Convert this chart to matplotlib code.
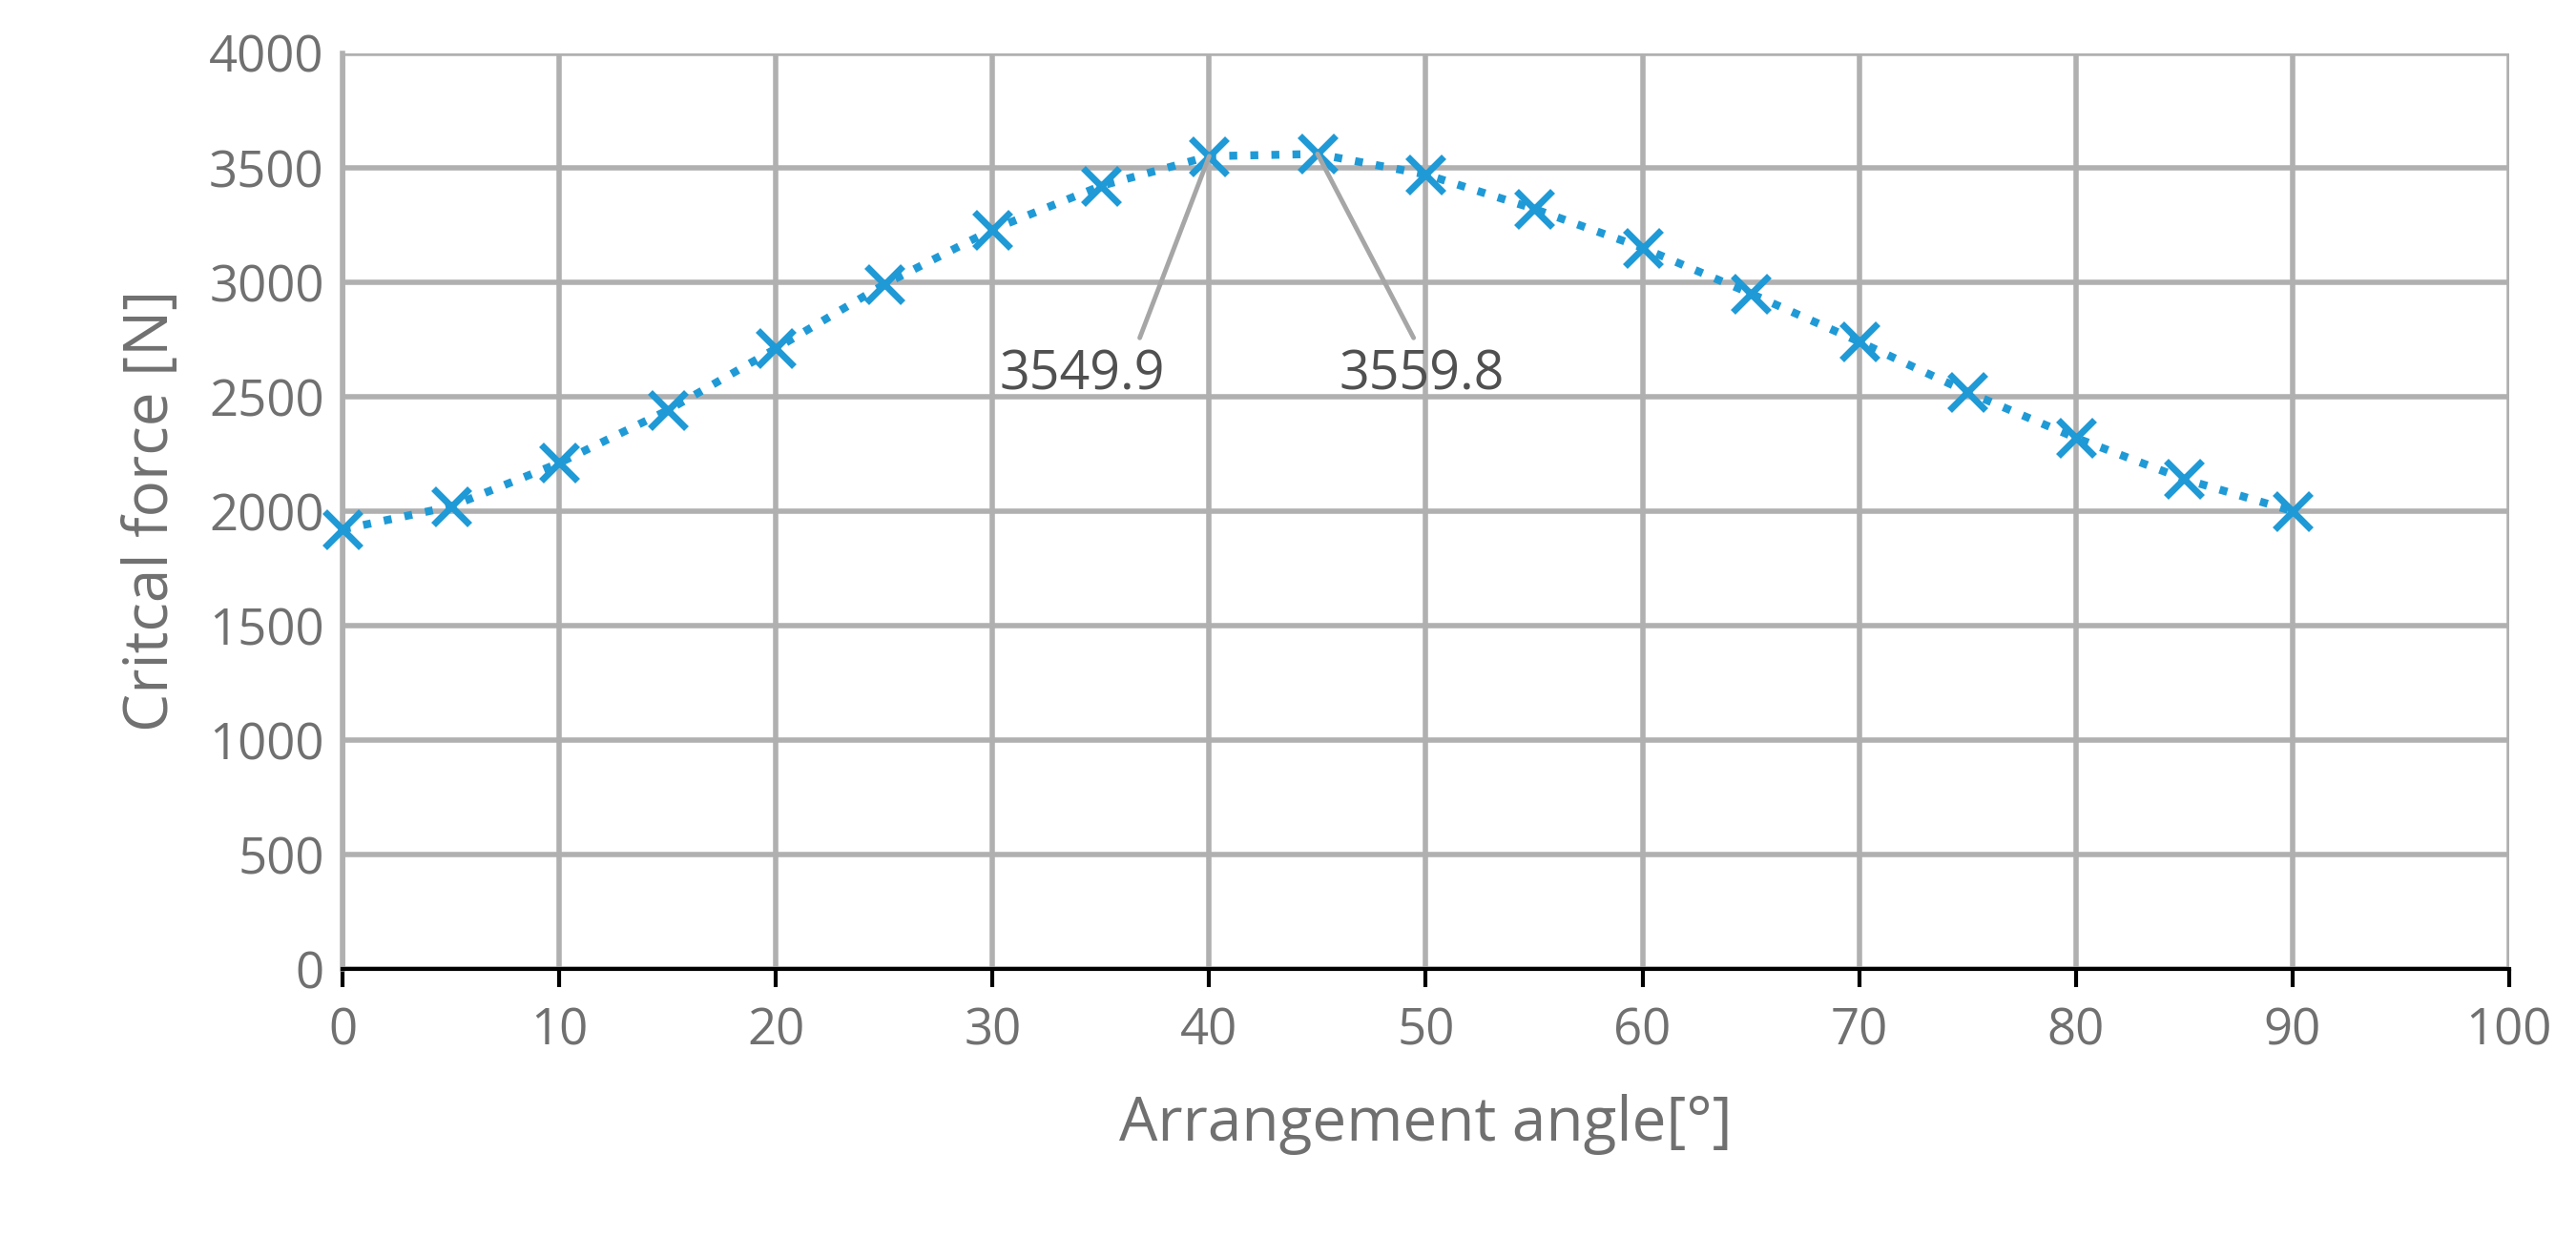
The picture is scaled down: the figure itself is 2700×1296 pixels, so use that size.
import matplotlib.pyplot as plt

angles = [0, 5, 10, 15, 20, 25, 30, 35, 40, 45, 50, 55, 60, 65, 70, 75, 80, 85, 90]
force = [1920, 2020, 2210, 2440, 2710, 2990, 3230, 3420, 3549.9, 3559.8,
         3470, 3320, 3150, 2950, 2740, 2520, 2320, 2140, 2000]

plt.rcParams['font.family'] = ['Open Sans', 'DejaVu Sans']
fig = plt.figure(figsize=(27, 12.96), dpi=100)
ax = fig.add_axes([0.133, 0.216, 0.841, 0.741])

blue = '#1f9ad6'
ax.plot(angles, force, linestyle=':', color=blue, linewidth=6,
        marker='x', markersize=28, markeredgewidth=5, zorder=3, clip_on=False)

ax.set_xlim(0, 100)
ax.set_ylim(0, 4000)
ax.set_xticks(range(0, 101, 10))
ax.set_yticks(range(0, 4001, 500))
ax.grid(True, color='#b0b0b0', linewidth=4)
ax.set_axisbelow(True)
for s in ['top', 'right']:
    ax.spines[s].set_visible(False)
ax.spines['left'].set_color('#b0b0b0')
ax.spines['left'].set_linewidth(4)
ax.spines['bottom'].set_color('black')
ax.spines['bottom'].set_linewidth(3)
ax.tick_params(axis='x', length=14, width=3, color='black', labelsize=38,
               labelcolor='#707070', pad=14)
ax.tick_params(axis='y', length=0, labelsize=38, labelcolor='#707070', pad=14)

ax.set_xlabel('Arrangement angle[°]', fontsize=46, color='#707070', labelpad=28)
ax.set_ylabel('Critcal force [N]', fontsize=46, color='#707070', labelpad=20)

ax.annotate('3549.9', xy=(angles[8], force[8]), xytext=(30.3, 2530),
            fontsize=40, color='#505050',
            arrowprops=dict(arrowstyle='-', color='#a6a6a6', lw=3.5,
                            shrinkA=0, shrinkB=0, relpos=(0.85, 1.2)))
ax.annotate('3559.8', xy=(angles[9], force[9]), xytext=(46, 2530),
            fontsize=40, color='#505050',
            arrowprops=dict(arrowstyle='-', color='#a6a6a6', lw=3.5,
                            shrinkA=0, shrinkB=0, relpos=(0.45, 1.2)))

fig.savefig('out.png')
